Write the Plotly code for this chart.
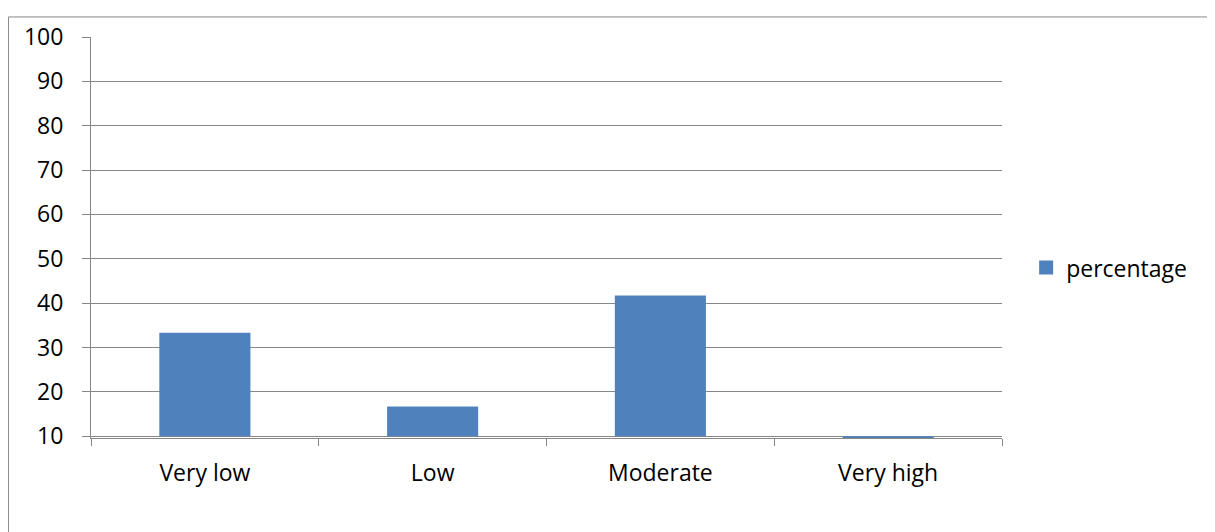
import plotly.graph_objects as go

categories = ["Very low", "Low", "Moderate", "Very high"]
percentage = [33.3, 16.7, 41.7, 8.3]
y_ticks = [10, 20, 30, 40, 50, 60, 70, 80, 90, 100]
axis_cross = 10

bar_color = "#4F81BD"
grid = "#878787"
font = "Open Sans, Calibri, sans-serif"

fig = go.Figure()
# bars are measured from the horizontal axis crossing at 10
fig.add_trace(go.Bar(
    x=categories, y=[v - axis_cross for v in percentage],
    base=[axis_cross] * len(percentage),
    name="percentage", showlegend=False,
    marker=dict(color=bar_color, line=dict(width=0)),
))
# legend entry with a larger square key
fig.add_trace(go.Scatter(
    x=[None], y=[None], mode="markers", name="percentage",
    marker=dict(symbol="square", size=14, color=bar_color),
))

fig.update_layout(
    width=1215, height=532,
    margin=dict(l=83, r=221, t=21, b=102),
    plot_bgcolor="white", paper_bgcolor="white",
    bargap=0.6,
    showlegend=True,
    legend=dict(x=1.0265, y=0.425, xanchor="left", yanchor="middle",
                font=dict(family=font, size=23, color="black"),
                itemwidth=30, bgcolor="rgba(0,0,0,0)"),
    font=dict(family=font, size=23, color="black"),
    xaxis=dict(showgrid=False, showline=True, linecolor=grid, linewidth=1,
               ticks="outside", tickson="boundaries", ticklen=7, tickcolor=grid,
               ticklabelstandoff=14, tickfont=dict(size=23)),
    yaxis=dict(range=[9.6, 100], tickvals=y_ticks, showgrid=True, gridcolor=grid,
               gridwidth=1, showline=True, linecolor=grid, linewidth=1,
               ticks="outside", ticklen=8, tickcolor=grid, zeroline=False,
               ticklabelstandoff=14, tickfont=dict(size=23)),
    shapes=[dict(type="rect", xref="paper", yref="paper",
                 x0=-0.0906, x1=1.4, y0=-0.4, y1=1.05,
                 line=dict(color="#888888", width=1), fillcolor="rgba(0,0,0,0)",
                 layer="below")],
)
fig.write_html("out.html")
